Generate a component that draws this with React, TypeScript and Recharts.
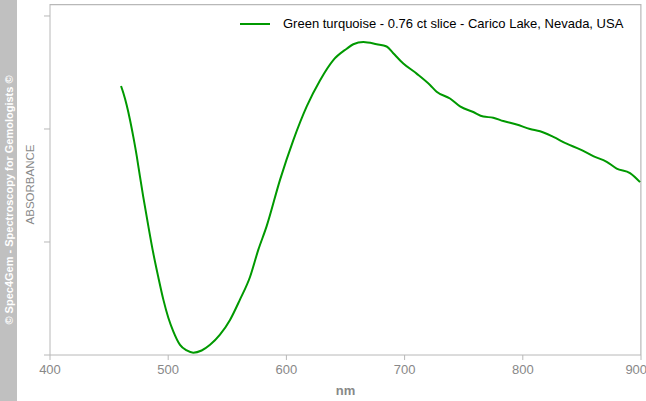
import { LineChart, Line, XAxis, YAxis, Legend, ReferenceLine } from 'recharts'

// wavelength (nm) and absorbance
const wavelengths = [
  460.1, 462.0, 464.9, 467.7, 470.5, 473.4, 476.1, 478.9, 483.2, 487.4, 491.6, 495.9, 500.1, 504.3, 510.0,
  515.7, 521.2, 528.3, 535.4, 543.8, 552.3, 560.7, 569.2, 576.2, 583.3, 594.6, 605.8, 617.2, 628.4, 639.7,
  651.0, 656.6, 665.1, 676.4, 684.8, 690.4, 698.9, 710.2, 721.5, 727.1, 738.4, 746.9, 758.1, 766.6, 775.0,
  783.5, 794.8, 806.1, 814.6, 825.8, 837.1, 848.4, 859.6, 871.0, 879.4, 890.7, 899.2,
]
const absorbance = [
  2.38, 2.32, 2.21, 2.08, 1.93, 1.76, 1.58, 1.4, 1.14, 0.9, 0.69, 0.49, 0.33, 0.21, 0.09,
  0.04, 0.02, 0.04, 0.09, 0.18, 0.31, 0.49, 0.69, 0.93, 1.14, 1.55, 1.9, 2.2, 2.43, 2.61,
  2.71, 2.75, 2.77, 2.75, 2.73, 2.67, 2.58, 2.49, 2.39, 2.33, 2.27, 2.2, 2.15, 2.11, 2.1,
  2.07, 2.04, 2.0, 1.98, 1.93, 1.87, 1.82, 1.76, 1.71, 1.65, 1.61, 1.53,
]
const xTicks = [400, 500, 600, 700, 800, 900]
const yTicks = [0, 1, 2, 3]
const yMax = 3.106
const seriesName = 'Green turquoise - 0.76 ct slice - Carico Lake, Nevada, USA'

const data = wavelengths.map((nm, i) => ({ nm, abs: absorbance[i] }))

const FONT = '"Liberation Sans", Arial, sans-serif'
const AXIS = '#b8b8b8'
const GRAY = '#888'
const GREEN = '#009900'

const LegendBox = ({ payload }: any) => (
  <div style={{ display: 'flex', alignItems: 'center', fontFamily: FONT, fontSize: 13, color: '#000', whiteSpace: 'nowrap' }}>
    {(payload || []).map((p: any) => (
      <div key={p.value} style={{ display: 'flex', alignItems: 'center' }}>
        <svg width={30} height={4} style={{ marginRight: 13 }}>
          <line x1={0} y1={2} x2={30} y2={2} stroke={p.color} strokeWidth={2} />
        </svg>
        <span>{p.value}</span>
      </div>
    ))}
  </div>
)

export default function App() {
  return (
    <div style={{ position: 'absolute', left: 0, top: 0, width: 646, height: 401, background: '#fff' }}>
      <LineChart width={646} height={401} data={data} margin={{ top: 4, right: 5, bottom: 0, left: 0 }}>
        <XAxis
          dataKey="nm"
          type="number"
          domain={[400, 900]}
          ticks={xTicks}
          height={46}
          tickSize={5}
          tickMargin={5}
          stroke={AXIS}
          tick={{ fill: GRAY, fontSize: 13, fontFamily: FONT }}
          label={{ value: 'nm', position: 'insideBottom', offset: 6, fill: GRAY, fontSize: 13, fontWeight: 'bold', fontFamily: FONT }}
        />
        <YAxis
          type="number"
          domain={[0, yMax]}
          ticks={yTicks}
          width={50}
          tickSize={6}
          tickFormatter={() => ''}
          stroke={AXIS}
          label={{ value: 'ABSORBANCE', angle: -90, position: 'center', dx: 5, dy: 5, fill: GRAY, fontSize: 11.5, fontFamily: FONT }}
        />
        {/* frame: top and right edges of the plot box */}
        <ReferenceLine x={899.9} stroke={AXIS} strokeWidth={1.2} ifOverflow="visible" />
        <ReferenceLine y={yMax - 0.005} stroke={AXIS} strokeWidth={1.2} ifOverflow="visible" />
        <Legend
          layout="horizontal"
          verticalAlign="middle"
          align="center"
          content={LegendBox}
          wrapperStyle={{ position: 'absolute', top: 16, left: 240, width: 'auto', height: 'auto' }}
        />
        <Line
          type="monotone"
          dataKey="abs"
          name={seriesName}
          stroke={GREEN}
          strokeWidth={2}
          dot={false}
          isAnimationActive={false}
        />
      </LineChart>
      <svg width={17} height={401} style={{ position: 'absolute', left: 0, top: 0 }}>
        <rect x={0} y={0} width={17} height={401} fill="#c0c0c0" />
        <text
          transform="translate(12.5, 200) rotate(-90)"
          textAnchor="middle"
          fill="#fff"
          fontSize={11}
          fontWeight="bold"
          fontFamily={FONT}
        >
          © Spec4Gem - Spectroscopy for Gemologists ©
        </text>
      </svg>
    </div>
  )
}
